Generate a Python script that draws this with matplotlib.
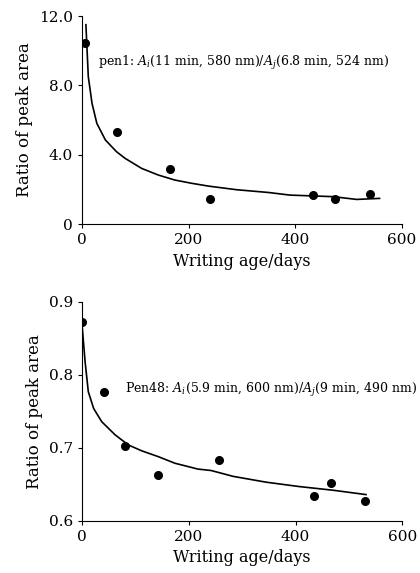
import numpy as np
import matplotlib
matplotlib.use("Agg")
import matplotlib.pyplot as plt

plt.rcParams['font.family'] = ['DejaVu Serif']
plt.rcParams['mathtext.fontset'] = 'dejavuserif'

# pen1 measured points and fitted curve
pen1_days = [5, 65, 165, 240, 433, 475, 541]
pen1_ratio = [10.45, 5.3, 3.15, 1.45, 1.7, 1.45, 1.72]
pen1_fit_days = [7.5, 12, 19, 28, 44, 65, 81, 112, 143, 174, 206, 237,
                 290, 350, 390, 471, 515, 558]
pen1_fit_ratio = [11.5, 8.5, 6.96, 5.81, 4.85, 4.17, 3.79, 3.21, 2.83, 2.54, 2.35, 2.19,
                  1.98, 1.82, 1.67, 1.58, 1.42, 1.48]

# Pen48 measured points and fitted curve
pen48_days = [0, 42, 80, 143, 256, 434, 466, 530]
pen48_ratio = [0.872, 0.777, 0.702, 0.663, 0.684, 0.634, 0.652, 0.627]
pen48_fit_days = [0, 6, 12, 22, 37, 62, 87, 112, 143, 174, 217, 242,
                  283, 345, 407, 470, 532]
pen48_fit_ratio = [0.871, 0.818, 0.777, 0.754, 0.736, 0.718, 0.704, 0.696, 0.688, 0.679, 0.671, 0.669,
                   0.661, 0.653, 0.647, 0.642, 0.636]

fig = plt.figure(figsize=(4.2, 5.73), dpi=100)
ax1 = fig.add_axes([0.195, 0.609, 0.762, 0.363])
ax2 = fig.add_axes([0.195, 0.091, 0.763, 0.382])

def style(ax):
    for s in ['top', 'right']:
        ax.spines[s].set_visible(False)
    ax.tick_params(direction='out', length=3, labelsize=11)
    ax.set_xlabel('Writing age/days', fontsize=11.5)
    ax.set_ylabel('Ratio of peak area', fontsize=12)
    ax.set_xlim(0, 600)
    ax.set_xticks([0, 200, 400, 600])

ax1.plot(pen1_fit_days, pen1_fit_ratio, color='black', lw=1.2)
ax1.plot(pen1_days, pen1_ratio, 'o', color='black', ms=5.5)
ax1.set_ylim(0, 12)
ax1.set_yticks([0, 4, 8, 12])
ax1.set_yticklabels(['0', '4.0', '8.0', '12.0'])
style(ax1)
ax1.text(30, 9.3, 'pen1: $A_i$(11 min, 580 nm)/$A_j$(6.8 min, 524 nm)',
         fontsize=9, va='center', clip_on=False)

ax2.plot(pen48_fit_days, pen48_fit_ratio, color='black', lw=1.2)
ax2.plot(pen48_days, pen48_ratio, 'o', color='black', ms=5.5)
ax2.set_ylim(0.6, 0.9)
ax2.set_yticks([0.6, 0.7, 0.8, 0.9])
ax2.set_yticklabels(['0.6', '0.7', '0.8', '0.9'])
style(ax2)
ax2.text(81, 0.779, 'Pen48: $A_i$(5.9 min, 600 nm)/$A_j$(9 min, 490 nm)',
         fontsize=9, va='center', clip_on=False)

fig.savefig('out.png', dpi=100)
